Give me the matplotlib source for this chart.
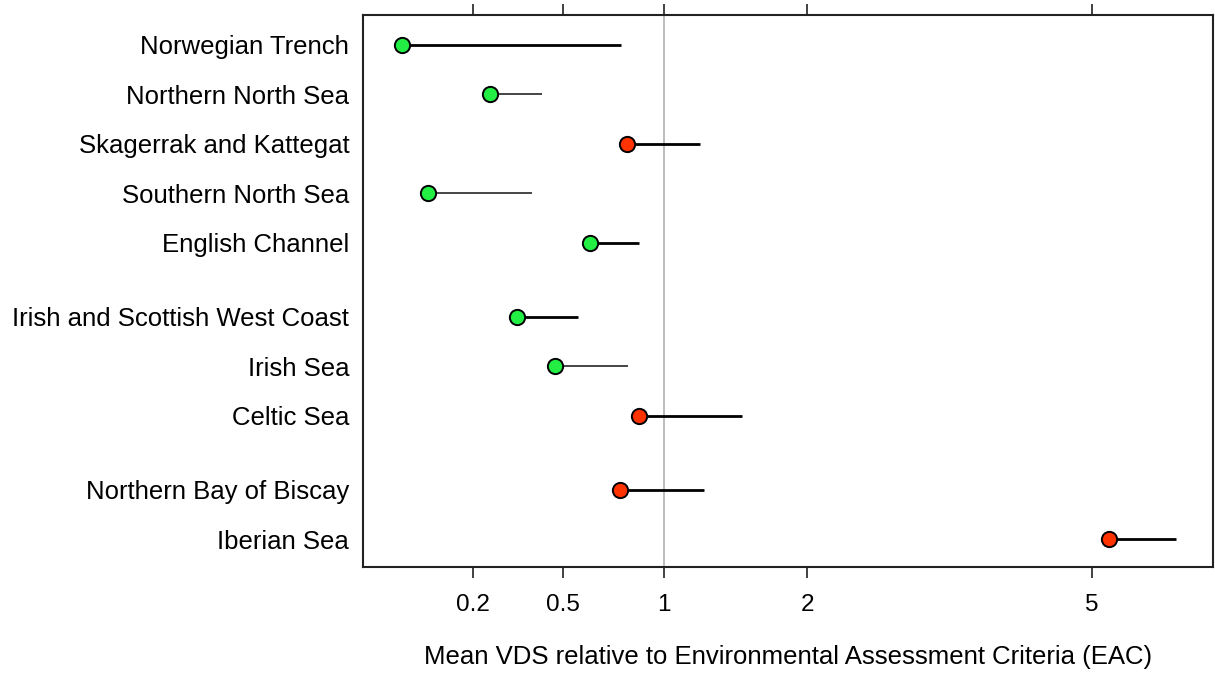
import numpy as np
import matplotlib
matplotlib.use('Agg')
import matplotlib.pyplot as plt

# Regions, top to bottom, with a gap between the three groups.
regions = ['Norwegian Trench', 'Northern North Sea', 'Skagerrak and Kattegat',
           'Southern North Sea', 'English Channel',
           'Irish and Scottish West Coast', 'Irish Sea', 'Celtic Sea',
           'Northern Bay of Biscay', 'Iberian Sea']
ypos = [0, 1, 2, 3, 4, 5.5, 6.5, 7.5, 9, 10]
# Mean VDS relative to EAC and upper confidence limit.
mean_vds = [0.059, 0.247, 0.80, 0.102, 0.618, 0.332, 0.469, 0.859, 0.762, 5.23]
upper_ci = [0.765, 0.418, 1.219, 0.382, 0.862, 0.566, 0.804, 1.50, 1.247, 6.15]
# Above EAC -> red, below -> green.
above_eac = [False, False, True, False, False, False, False, True, True, True]
thin_line = [False, True, False, True, False, False, True, False, False, False]
xticks = [0.2, 0.5, 1, 2, 5]
xlabels = ['0.2', '0.5', '1', '2', '5']

plt.rcParams['font.family'] = ['Liberation Sans', 'DejaVu Sans']

def fwd(x):
    return np.sqrt(np.clip(x, 0, None))

def inv(x):
    return x ** 2

fig = plt.figure(figsize=(12.15, 6.73), dpi=100)
ax = fig.add_axes([0.2988, 0.1568, 0.6996, 0.8209])
ax.set_xscale('function', functions=(fwd, inv))
ax.axvline(1, color='#b8b8b8', lw=1.3, zorder=1)

for i in range(len(regions)):
    lw = 1.4 if thin_line[i] else 2.0
    col = '#444444' if thin_line[i] else 'black'
    ax.plot([mean_vds[i], upper_ci[i]], [ypos[i], ypos[i]], color=col,
            lw=lw, zorder=2, solid_capstyle='butt')
    fc = '#ff3300' if above_eac[i] else '#22ee44'
    ax.plot(mean_vds[i], ypos[i], 'o', ms=11, mfc=fc, mec='black',
            mew=1.4, zorder=3)

ax.set_xlim(0.0171, 6.69)
ax.set_ylim(10.57, -0.6)
ax.set_yticks(ypos)
ax.set_yticklabels(regions, fontsize=18.5)
ax.tick_params(axis='y', length=0, pad=10)
ax.set_xticks(xticks)
ax.set_xticklabels(xlabels, fontsize=17.5)
ax.xaxis.set_minor_locator(matplotlib.ticker.NullLocator())
ax.tick_params(axis='x', which='major', length=8, width=1.3, pad=11,
               top=True, labeltop=False, direction='out', color='#333333')
fig.text(0.649, 1 - 657 / 673,
         'Mean VDS relative to Environmental Assessment Criteria (EAC)',
         fontsize=18.5, ha='center', va='center')
for sp in ax.spines.values():
    sp.set_linewidth(1.5)
    sp.set_color('#222222')

fig.savefig('out.png', dpi=100)
